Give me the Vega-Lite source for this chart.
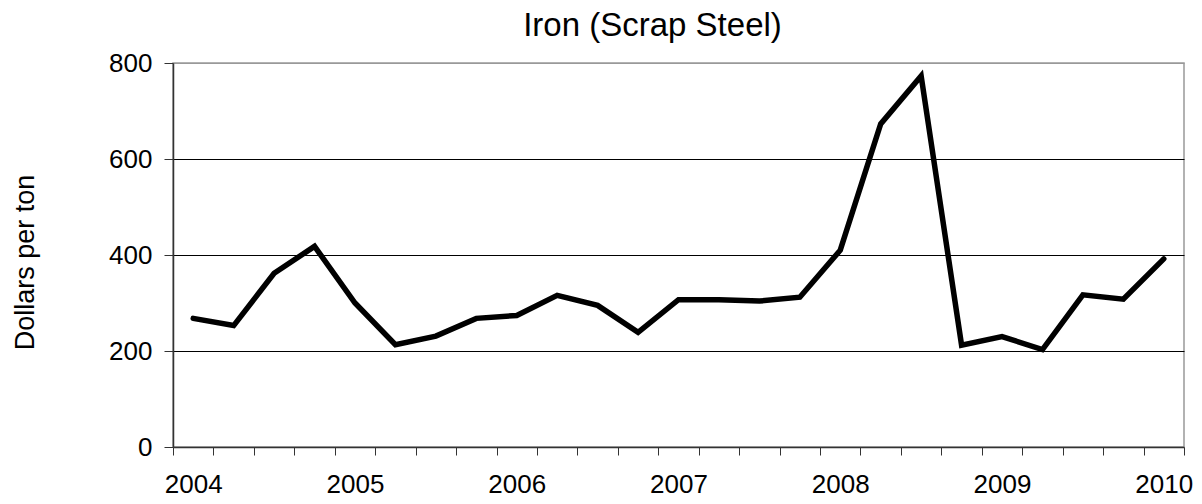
{
  "$schema": "https://vega.github.io/schema/vega-lite/v6.json",
  "width": 1011,
  "height": 384,
  "autosize": "none",
  "padding": {"left": 173, "top": 63, "right": 18, "bottom": 57},
  "background": "white",
  "title": {
    "text": "Iron (Scrap Steel)",
    "font": "Liberation Sans",
    "fontSize": 33,
    "fontWeight": "normal",
    "color": "black",
    "frame": "group",
    "anchor": "middle",
    "dx": -26,
    "offset": 7
  },
  "config": {
    "font": "Liberation Sans",
    "view": {"stroke": "#999999", "strokeWidth": 1.5}
  },
  "data": {
    "values": [
      {"period": 0, "price": 268},
      {"period": 1, "price": 253},
      {"period": 2, "price": 362},
      {"period": 3, "price": 418},
      {"period": 4, "price": 300},
      {"period": 5, "price": 213},
      {"period": 6, "price": 231},
      {"period": 7, "price": 268},
      {"period": 8, "price": 274},
      {"period": 9, "price": 316},
      {"period": 10, "price": 295},
      {"period": 11, "price": 239},
      {"period": 12, "price": 307},
      {"period": 13, "price": 307},
      {"period": 14, "price": 304},
      {"period": 15, "price": 312},
      {"period": 16, "price": 410},
      {"period": 17, "price": 673},
      {"period": 18, "price": 773},
      {"period": 19, "price": 212},
      {"period": 20, "price": 230},
      {"period": 21, "price": 203},
      {"period": 22, "price": 317},
      {"period": 23, "price": 308},
      {"period": 24, "price": 392}
    ]
  },
  "mark": {"type": "line", "color": "black", "strokeWidth": 5.5, "strokeCap": "round", "strokeJoin": "miter"},
  "encoding": {
    "x": {
      "field": "period",
      "type": "quantitative",
      "scale": {"domain": [-0.5, 24.5], "nice": false, "zero": false},
      "axis": {
        "title": null,
        "grid": false,
        "values": [-0.5, 0.5, 1.5, 2.5, 3.5, 4.5, 5.5, 6.5, 7.5, 8.5, 9.5, 10.5, 11.5, 12.5, 13.5, 14.5, 15.5, 16.5, 17.5, 18.5, 19.5, 20.5, 21.5, 22.5, 23.5, 24.5],
        "labelExpr": "(datum.value + 0.5) % 4 == 0 ? toString(2004 + (datum.value + 0.5) / 4) : ''",
        "labelOffset": 20.2,
        "labelOverlap": false,
        "labelBound": false,
        "labelFlush": false,
        "labelFont": "Liberation Sans",
        "labelFontSize": 26,
        "labelColor": "black",
        "labelPadding": 16,
        "tickSize": 8,
        "tickColor": "#333333",
        "tickWidth": 1,
        "domainColor": "#333333",
        "domainWidth": 1.5
      }
    },
    "y": {
      "field": "price",
      "type": "quantitative",
      "scale": {"domain": [0, 800], "nice": false},
      "axis": {
        "title": "Dollars per ton",
        "titleFont": "Liberation Sans",
        "titleFontSize": 27,
        "titleFontWeight": "normal",
        "titleColor": "black",
        "titleAngle": -90,
        "titleBaseline": "middle",
        "titleAlign": "center",
        "titleX": -148,
        "titleY": 199,
        "values": [0, 200, 400, 600, 800],
        "labelFont": "Liberation Sans",
        "labelFontSize": 26,
        "labelColor": "black",
        "labelPadding": 12,
        "tickSize": 9,
        "tickColor": "#333333",
        "tickWidth": 1,
        "domainColor": "#333333",
        "domainWidth": 1.5,
        "grid": true,
        "gridColor": {"condition": {"test": "datum.value === 800 || datum.value === 0", "value": "#999999"}, "value": "black"},
        "gridWidth": 1
      }
    }
  }
}
